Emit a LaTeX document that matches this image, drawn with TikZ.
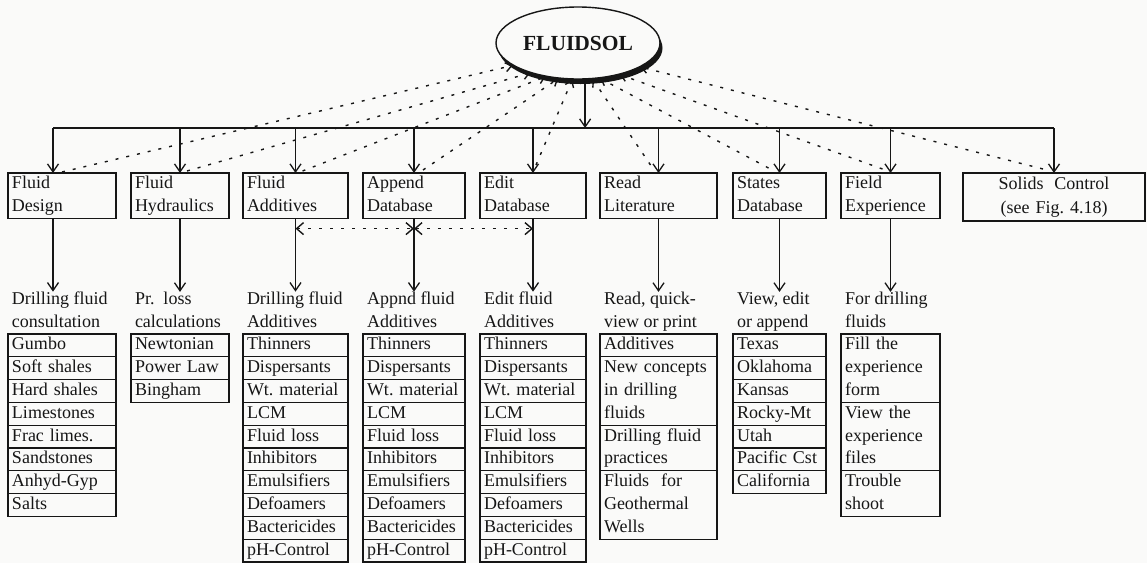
\documentclass[tikz,border=0pt]{standalone}
\usepackage{fontspec}
\setmainfont{Liberation Serif}
\usetikzlibrary{shapes.geometric,arrows.meta,shadows}
\definecolor{paper}{RGB}{250,250,249}
\definecolor{ink}{RGB}{22,22,22}
\hyphenpenalty=10000
\exhyphenpenalty=10000

\tikzset{
  txt/.style={font=\fontsize{18}{22.8}\selectfont, text=ink, inner xsep=4pt, inner ysep=0pt,
    outer sep=0pt, align=left, execute at begin node=\strut, execute at end node=\strut},
  mod/.style={txt, draw=ink, line width=1.3pt},
  rowbox/.style={txt, draw=ink, line width=1.2pt},
  head/.style={txt},
  wire/.style={draw=ink, line width=1.3pt},
  arr/.style={wire, -{Straight Barb[length=8pt,width=11pt]}},
  dotline/.style={draw=ink, line width=1.4pt, dash pattern=on 3pt off 8pt},
  dasharr/.style={dotline, -{Straight Barb[length=6pt,width=9pt]}},
  dashboth/.style={dotline, {Straight Barb[length=7pt,width=12pt]}-{Straight Barb[length=7pt,width=12pt]}},
}

% a column of ruled entries, stacked downwards from a top-left corner
\newcommand\itemcol[4]{%
  \foreach \itm [count=\i] in {#4}{%
    \ifnum\i=1
      \node[rowbox, text width=#2, anchor=north west] (#1-\i) at #3 {\itm};
    \else
      \pgfmathtruncatemacro\j{\i-1}%
      \node[rowbox, text width=#2, anchor=north] (#1-\i) at (#1-\j.south) {\itm};
    \fi
  }%
}

\begin{document}
\begin{tikzpicture}[x=1pt,y=-1pt]
\fill[paper] (0,0) rectangle (1147,563);
\useasboundingbox (0,0) rectangle (1147,563);

% main program
\node[ellipse, draw=ink, line width=1.4pt, fill=paper, minimum width=164pt, minimum height=72pt,
  inner sep=0pt, drop shadow={shadow xshift=2.5pt, shadow yshift=-5pt, fill=ink, opacity=1},
  font=\fontsize{21.5}{25}\selectfont\bfseries, text=ink] (fs) at (578,43) {FLUIDSOL};

% modules
\node[mod, text width=100pt, anchor=north west] (design) at (8,173) {Fluid\\Design};
\node[mod, text width=90pt,  anchor=north west] (hyd)    at (131,173) {Fluid\\Hydraulics};
\node[mod, text width=97pt,  anchor=north west] (add)    at (243,173) {Fluid\\Additives};
\node[mod, text width=94pt,  anchor=north west] (app)    at (363,173) {Append\\Database};
\node[mod, text width=98pt,  anchor=north west] (edit)   at (480,173) {Edit\\Database};
\node[mod, text width=109pt, anchor=north west] (read)   at (600,173) {Read\\Literature};
\node[mod, text width=85pt,  anchor=north west] (states) at (733,173) {States\\Database};
\node[mod, text width=91pt,  anchor=north west] (field)  at (841,173) {Field\\Experience};
\node[mod, text width=174pt, anchor=north west, align=center, font=\fontsize{18}{24}\selectfont]
  (solids) at (963,173) {Solids\hspace{0.6em}Control\\(see Fig.\ 4.18)};

% sub-menus
\itemcol{d}{100pt}{(8,334)}{Gumbo,Soft shales,Hard shales,Limestones,Frac limes.,Sandstones,Anhyd-Gyp,Salts}
\itemcol{h}{90pt}{(131,334)}{Newtonian,Power Law,Bingham}
\itemcol{a}{97pt}{(243,334)}{Thinners,Dispersants,Wt.\ material,LCM,Fluid loss,Inhibitors,Emulsifiers,Defoamers,Bactericides,pH-Control}
\itemcol{p}{94pt}{(363,334)}{Thinners,Dispersants,Wt.\ material,LCM,Fluid loss,Inhibitors,Emulsifiers,Defoamers,Bactericides,pH-Control}
\itemcol{e}{98pt}{(480,334)}{Thinners,Dispersants,Wt.\ material,LCM,Fluid loss,Inhibitors,Emulsifiers,Defoamers,Bactericides,pH-Control}
\itemcol{r}{109pt}{(600,334)}{Additives,{New concepts\\in drilling\\fluids},{Drilling fluid\\practices},{Fluids\ \ for\\Geothermal\\Wells}}
\itemcol{s}{85pt}{(733,334)}{Texas,Oklahoma,Kansas,Rocky-Mt,Utah,Pacific Cst,California}
\itemcol{f}{91pt}{(841,334)}{{Fill the\\experience\\form},{View the\\experience\\files},{Trouble\\shoot}}

% sub-menu titles
\node[head, anchor=south west] (dh) at (d-1.north west) {Drilling fluid\\consultation};
\node[head, anchor=south west] (hh) at (h-1.north west) {Pr.\ \ loss\\calculations};
\node[head, anchor=south west] (ah) at (a-1.north west) {Drilling fluid\\Additives};
\node[head, anchor=south west] (ph) at (p-1.north west) {Appnd fluid\\Additives};
\node[head, anchor=south west] (eh) at (e-1.north west) {Edit fluid\\Additives};
\node[head, anchor=south west] (rh) at (r-1.north west) {Read, quick-\\view or print};
\node[head, anchor=south west] (sh) at (s-1.north west) {View, edit\\or append};
\node[head, anchor=south west] (fh) at (f-1.north west) {For drilling\\fluids};

% distribution bus from the main program
\coordinate (bus) at (0,128);
\coordinate (dtop) at ([xshift=-9pt]design.north);
\coordinate (dbot) at ([xshift=-9pt]design.south);
\draw[wire] (dtop |- bus) -- (solids.north |- bus);
\draw[arr] (fs.281) -- (fs.281 |- bus);
\draw[arr] (dtop |- bus) -- (dtop);
\foreach \n in {hyd,add,app,edit,read,states,field,solids}
  \draw[arr] (\n.north |- bus) -- (\n.north);

% returns to the main program
\draw[dasharr] ([yshift=1pt]design.north) -- (fs.199);
\draw[dasharr] ([xshift=7pt,yshift=2pt]hyd.north) -- (fs.212);
\draw[dasharr] ([xshift=7pt,yshift=2pt]add.north) -- (fs.226);
\draw[dasharr] ([xshift=9pt,yshift=3pt]app.north) -- (fs.241);
\draw[dasharr] ([xshift=3pt,yshift=8pt]edit.north) -- (fs.261);
\draw[dasharr] ([xshift=-8pt,yshift=8pt]read.north) -- (fs.292);
\draw[dasharr] ([xshift=-11pt,yshift=5pt]states.north) -- (fs.302);
\draw[dasharr] ([xshift=-8pt,yshift=4pt]field.north) -- (fs.323);
\draw[dasharr] ([xshift=-11pt,yshift=4pt]solids.north) -- (fs.339);

% module to sub-menu
\draw[arr] (dbot) -- (dbot |- dh.north);
\foreach \n/\h in {hyd/hh,add/ah,app/ph,edit/eh,read/rh,states/sh,field/fh}
  \draw[arr] (\n.south) -- (\n.south |- \h.north);

% links between the additive databases
\draw[dashboth] ([yshift=-10pt]add.south) -- ([yshift=-10pt]app.south);
\draw[dashboth] ([yshift=-10pt]app.south) -- ([yshift=-10pt]edit.south);
\end{tikzpicture}
\end{document}
